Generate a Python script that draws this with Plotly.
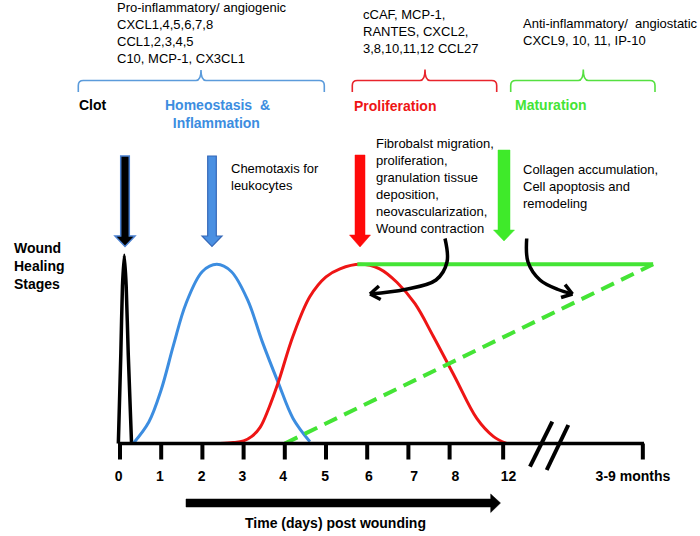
import numpy as np
import plotly.graph_objects as go

# ---------------- data ----------------
# x in "axis position" units (one unit per day up to 8), y in relative level (1 = plateau)
clot_x = [-0.04, 0.02, 0.06, 0.105, 0.15, 0.20, 0.28]
clot_y = [0.0, 0.50, 0.88, 1.05, 0.88, 0.50, 0.0]

infl_x = [0.32, 0.7, 1.0, 1.3, 1.6, 2.0, 2.35, 2.7, 3.1, 3.45, 3.84, 4.2, 4.61]
infl_y = [0.0, 0.12, 0.30, 0.55, 0.78, 0.96, 1.0, 0.96, 0.80, 0.57, 0.34, 0.14, 0.01]

prolif_x = [2.43, 2.75, 3.0, 3.2, 3.4, 3.6, 3.84, 4.2, 4.61, 5.0, 5.34, 5.83,
            6.3, 6.72, 7.16, 7.6, 8.13, 8.66, 9.06, 9.38]
prolif_y = [0.0, 0.005, 0.015, 0.04, 0.09, 0.19, 0.34, 0.60, 0.82, 0.93, 0.975, 1.0,
            0.975, 0.90, 0.78, 0.60, 0.37, 0.14, 0.04, 0.0]

matur_solid_x = [5.76, 12.94]
matur_solid_y = [1.0, 1.0]
matur_dash_x = [4.0, 12.94]
matur_dash_y = [0.0, 1.0]

tick_pos = [0, 1, 2, 3, 4, 5, 6, 7, 8, 9.30, 12.69]
tick_labels = ["0", "1", "2", "3", "4", "5", "6", "7", "8", "12", "3-9 months"]
label_pos = [-0.03, 0.97, 1.98, 2.97, 3.96, 4.98, 6.04, 7.14, 8.14, 9.43, 12.45]

# ---------------- colours ----------------
BLUE = "#3C8DE0"
RED = "#EE1515"
GREEN = "#44E435"
BRACE_BLUE = "#5B9BDB"
BRACE_RED = "#E8242C"
BRACE_GREEN = "#55E040"
FONT = "Liberation Sans, Arial, sans-serif"

# ---------------- pixel <-> data helpers (for decorations / text) ----------------
X0, SX = 120.0, 41.2      # pixel of x=0, pixels per unit
Y0, SY = 443.5, 179.2     # pixel of y=0, pixels per unit
W, H = 700, 536


def X(px):
    return (px - X0) / SX


def Y(py):
    return (Y0 - py) / SY


def P(px, py):
    return f"{X(px):.5f},{Y(py):.5f}"


fig = go.Figure()

# curves
fig.add_trace(go.Scatter(x=clot_x, y=clot_y, mode="lines",
                         line=dict(color="black", width=3.5, shape="spline", smoothing=0.6)))
fig.add_trace(go.Scatter(x=infl_x, y=infl_y, mode="lines",
                         line=dict(color=BLUE, width=3, shape="spline", smoothing=1.0)))
fig.add_trace(go.Scatter(x=prolif_x, y=prolif_y, mode="lines",
                         line=dict(color=RED, width=3, shape="spline", smoothing=1.0)))
fig.add_trace(go.Scatter(x=matur_dash_x, y=matur_dash_y, mode="lines",
                         line=dict(color=GREEN, width=4, dash="14px,8px")))
fig.add_trace(go.Scatter(x=matur_solid_x, y=matur_solid_y, mode="lines",
                         line=dict(color=GREEN, width=4)))

shapes = []

# time axis line and ticks
shapes.append(dict(type="line", xref="x", yref="y", x0=X(118), x1=X(644), y0=0, y1=0,
                   line=dict(color="black", width=3.5)))
tick_len = Y(459.5)
for t in tick_pos:
    shapes.append(dict(type="line", xref="x", yref="y", x0=t, x1=t, y0=0, y1=tick_len,
                       line=dict(color="black", width=4)))

# axis break marks
for (ax0, ay0, ax1, ay1) in [(530, 466.7, 552.3, 421.7), (546.7, 470, 568.3, 425)]:
    shapes.append(dict(type="line", xref="x", yref="y", x0=X(ax0), y0=Y(ay0), x1=X(ax1), y1=Y(ay1),
                       line=dict(color="black", width=4)))

# time arrow
path = ("M " + P(186, 499) + " L " + P(490.7, 499) + " L " + P(490.7, 494) + " L " + P(500.5, 503) +
        " L " + P(490.7, 512.5) + " L " + P(490.7, 507) + " L " + P(186, 507) + " Z")
shapes.append(dict(type="path", xref="x", yref="y", path=path, fillcolor="black",
                   line=dict(color="black", width=0.5)))


# block arrows (downward)
def block_arrow(cx, top, hs, tip, sw, hw, fill, outline, lw):
    p = ("M " + P(cx - sw, top) + " L " + P(cx + sw, top) + " L " + P(cx + sw, hs) +
         " L " + P(cx + hw, hs) + " L " + P(cx, tip) + " L " + P(cx - hw, hs) +
         " L " + P(cx - sw, hs) + " Z")
    return dict(type="path", xref="x", yref="y", path=p, fillcolor=fill,
                line=dict(color=outline, width=lw))


shapes.append(block_arrow(125, 156, 236, 246.5, 4.3, 10, "black", "#4A80D0", 1.5))
shapes.append(block_arrow(212, 156, 236, 246.5, 4.3, 10, "#4A90E2", "#3568B8", 1.2))
shapes.append(block_arrow(360, 155, 235, 247, 5, 10.5, "#FF0A0A", "#FF0A0A", 0.5))
shapes.append(block_arrow(504, 150, 230, 241, 6, 10.5, "#3FEA2A", "#3FEA2A", 0.5))


# braces
def brace(L, R, C, T, B, Pk, color):
    r = 5
    p = ("M " + P(L, B) + " L " + P(L, T + r) + " Q " + P(L, T) + " " + P(L + r, T) +
         " L " + P(C - r, T) + " Q " + P(C, T) + " " + P(C, Pk) +
         " Q " + P(C, T) + " " + P(C + r, T) +
         " L " + P(R - r, T) + " Q " + P(R, T) + " " + P(R, T + r) + " L " + P(R, B))
    return dict(type="path", xref="x", yref="y", path=p, line=dict(color=color, width=1.6))


shapes.append(brace(78.3, 324.3, 201, 80.5, 92, 70, BRACE_BLUE))
shapes.append(brace(352.3, 496.7, 425, 80.5, 92, 69.5, BRACE_RED))
shapes.append(brace(510.7, 655, 583.3, 80.5, 92, 69.5, BRACE_GREEN))

# curved black arrows
curves = [
    [(445, 238.5), (447, 262), (436, 280), (405, 289.5), (370, 294)],
    [(526.7, 238.5), (528, 262), (540, 280), (558, 289.5), (572.5, 294)],
]
for pts in curves:
    fig.add_trace(go.Scatter(x=[X(a) for a, b in pts], y=[Y(b) for a, b in pts], mode="lines",
                             line=dict(color="black", width=3.5, shape="spline", smoothing=1.0)))
    (ax, ay), (bx, by) = pts[-2], pts[-1]
    d = np.array([bx - ax, by - ay], float)
    d /= np.linalg.norm(d)
    arm = 12.0
    for ang in (0.6, -0.6):
        c, s = np.cos(ang), np.sin(ang)
        v = np.array([c * d[0] - s * d[1], s * d[0] + c * d[1]])
        ex, ey = bx - arm * v[0], by - arm * v[1]
        shapes.append(dict(type="line", xref="x", yref="y", x0=X(bx), y0=Y(by), x1=X(ex), y1=Y(ey),
                           line=dict(color="black", width=3.5)))

# tick labels as text trace
fig.add_trace(go.Scatter(x=label_pos, y=[Y(477)] * len(label_pos), mode="text",
                         text=[f"<b>{t}</b>" for t in tick_labels],
                         textfont=dict(family=FONT, size=14, color="black"), textposition="middle center"))

annotations = []


def note(text, px, py, size=13, color="black", bold=False, align="left", xanchor="left"):
    t = f"<b>{text}</b>" if bold else text
    top = py - 0.65 * size - 2
    annotations.append(dict(x=px / W, y=1 - top / H, xref="paper", yref="paper", text=t, showarrow=False,
                            xanchor=xanchor, yanchor="top", align=align,
                            font=dict(family=FONT, size=size, color=color)))


note("Pro-inflammatory/ angiogenic<br>CXCL1,4,5,6,7,8<br>CCL1,2,3,4,5<br>C10, MCP-1, CX3CL1", 115, 8.5)
note("cCAF, MCP-1,<br>RANTES, CXCL2,<br>3,8,10,11,12 CCL27", 360.7, 15.7)
note("Anti-inflammatory/&nbsp; angiostatic<br>CXCL9, 10, 11, IP-10", 521, 24.3)
note("Clot", 76.7, 106, size=14, bold=True)
note("Homeostasis&nbsp; &amp;<br>&nbsp;&nbsp;Inflammation", 162.7, 106, size=14, color=BLUE, bold=True)
note("Proliferation", 352.3, 106.7, size=14, color=RED, bold=True)
note("Maturation", 513.3, 106, size=14, color=GREEN, bold=True)
note("Wound<br>Healing<br>Stages", 11.7, 249, size=14, bold=True)
note("Chemotaxis for<br>leukocytes", 229, 169)
note("Fibrobalst migration,<br>proliferation,<br>granulation tissue<br>deposition,<br>"
     "neovascularization,<br>Wound contraction", 374.3, 144.3)
note("Collagen accumulation,<br>Cell apoptosis and<br>remodeling", 521, 170.7)
note("Time (days) post wounding", 335.5, 524, size=14, bold=True, align="center", xanchor="center")

fig.update_layout(
    width=W, height=H, margin=dict(l=0, r=0, t=0, b=0),
    paper_bgcolor="white", plot_bgcolor="white", showlegend=False,
    xaxis=dict(range=[X(0), X(W)], visible=False, fixedrange=True),
    yaxis=dict(range=[Y(H), Y(0)], visible=False, fixedrange=True),
    shapes=shapes, annotations=annotations,
)

fig.write_html("out.html", config={"displayModeBar": False},
               post_script="document.body.style.margin='0';document.body.style.overflow='hidden';")
